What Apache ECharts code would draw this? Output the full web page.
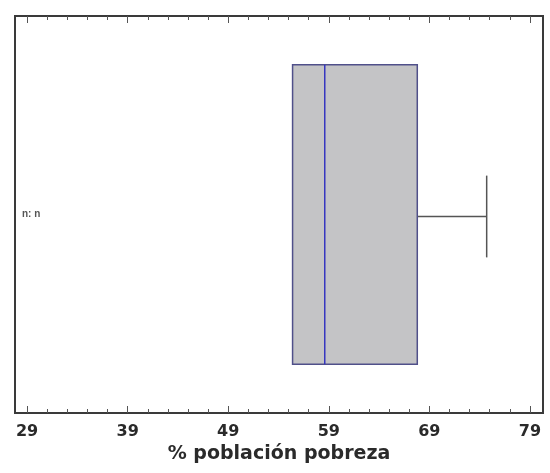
<!DOCTYPE html>
<html>
<head>
    <meta charset="utf-8">
    <title>% poblacion pobreza</title>
    <script src="https://cdn.jsdelivr.net/npm/echarts@6/dist/echarts.min.js"></script>
    <style>
        html, body { margin: 0; padding: 0; background: #fff; }
        #box { width: 550px; height: 473px; }
    </style>
</head>
<body>
<div id="box"></div>
<script>
    // values
    var categories = ['n: n'];
    var minVals = [55.4];
    var q1Vals = [55.4];
    var medianVals = [58.6];
    var q3Vals = [67.8];
    var maxVals = [74.7];
    var majorTicks = [29, 39, 49, 59, 69, 79];
    var minorTicks = [31, 33, 35, 37, 41, 43, 45, 47, 51, 53, 55, 57, 61, 63, 65, 67, 71, 73, 75, 77];

    var rows = [];
    for (var i = 0; i < categories.length; i++) {
        rows.push([i, minVals[i], q1Vals[i], medianVals[i], q3Vals[i], maxVals[i]]);
    }

    var xMin = 27.8, xMax = 80.3;

    function tickAxis(pos, vals, len, labels) {
        return {
            type: 'value', position: pos, min: xMin, max: xMax,
            axisLine: {show: false},
            splitLine: {show: false},
            axisTick: {show: true, inside: true, length: len, customValues: vals,
                lineStyle: {color: '#555', width: 1}},
            axisLabel: labels ? {
                show: true, customValues: vals, margin: 11,
                fontSize: 16, fontWeight: 'bold', color: '#2a2a2a', fontFamily: 'DejaVu Sans'
            } : {show: false}
        };
    }

    var xBottom = tickAxis('bottom', majorTicks, 7, true);
    xBottom.name = '% población pobreza';
    xBottom.nameLocation = 'middle';
    xBottom.nameGap = 30;
    xBottom.nameTextStyle = {fontSize: 19, fontWeight: 'bold', color: '#2a2a2a', fontFamily: 'DejaVu Sans'};

    var chart = echarts.init(document.getElementById('box'));
    chart.setOption({
        animation: false,
        grid: {left: 15, right: 7, top: 16, bottom: 60, show: true,
            borderColor: '#3a3a3a', borderWidth: 2, backgroundColor: '#fff'},
        xAxis: [
            xBottom,
            tickAxis('bottom', minorTicks, 4, false),
            tickAxis('top', majorTicks, 7, false),
            tickAxis('top', minorTicks, 4, false)
        ],
        yAxis: {
            type: 'category', data: categories,
            axisLine: {show: false}, axisTick: {show: false},
            axisLabel: {inside: true, margin: 7, fontSize: 10, color: '#555', fontWeight: 'bold'}
        },
        series: [{
            type: 'custom',
            data: rows,
            encode: {x: [1, 2, 3, 4, 5], y: 0},
            renderItem: function (params, api) {
                var cat = api.value(0);
                var pMin = api.coord([api.value(1), cat]);
                var pQ1 = api.coord([api.value(2), cat]);
                var pMed = api.coord([api.value(3), cat]);
                var pQ3 = api.coord([api.value(4), cat]);
                var pMax = api.coord([api.value(5), cat]);
                var band = api.size([0, 1])[1];
                var half = band * 0.377;
                var cap = band * 0.103;
                var cy = pMed[1] + 2;
                var kids = [];
                if (pMin[0] < pQ1[0]) {
                    kids.push({type: 'line', shape: {x1: pMin[0], y1: cy, x2: pQ1[0], y2: cy},
                        style: {stroke: '#555', lineWidth: 1.5}});
                    kids.push({type: 'line', shape: {x1: pMin[0], y1: cy - cap, x2: pMin[0], y2: cy + cap},
                        style: {stroke: '#555', lineWidth: 1.5}});
                }
                kids.push({type: 'line', shape: {x1: pQ3[0], y1: cy, x2: pMax[0], y2: cy},
                    style: {stroke: '#555', lineWidth: 1.5}});
                kids.push({type: 'line', shape: {x1: pMax[0], y1: cy - cap, x2: pMax[0], y2: cy + cap},
                    style: {stroke: '#555', lineWidth: 1.5}});
                kids.push({type: 'rect',
                    shape: {x: pQ1[0], y: pMed[1] - half, width: pQ3[0] - pQ1[0], height: half * 2},
                    style: {fill: '#c4c4c6', stroke: '#50508a', lineWidth: 1.5}});
                kids.push({type: 'line', shape: {x1: pMed[0], y1: pMed[1] - half, x2: pMed[0], y2: pMed[1] + half},
                    style: {stroke: '#3636c0', lineWidth: 1.5}});
                return {type: 'group', children: kids};
            }
        }]
    });
</script>
</body>
</html>
